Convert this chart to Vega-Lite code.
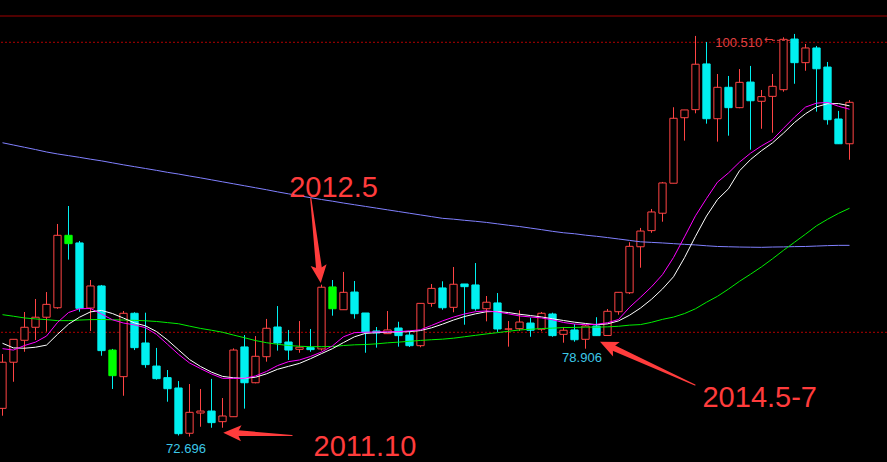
{
  "$schema": "https://vega.github.io/schema/vega-lite/v6.json",
  "width": 887,
  "height": 462,
  "autosize": {"type": "none"},
  "padding": 0,
  "background": "#000000",
  "config": {"view": {"stroke": null}, "scale": {"continuousPadding": 0}},
  "datasets": {
    "candles": [
      {"i":0,"d":"up","o":74.69,"h":78.53,"l":74.17,"c":77.95,"w":79.29,"m":78.91,"g":81.31,"b":93.46},
      {"i":1,"d":"up","o":77.95,"h":79.57,"l":76.57,"c":79.57,"w":78.96,"m":78.81,"g":81.20,"b":93.30},
      {"i":2,"d":"up","o":79.50,"h":81.50,"l":78.69,"c":80.42,"w":78.94,"m":79.13,"g":81.08,"b":93.14},
      {"i":3,"d":"up","o":80.42,"h":82.42,"l":79.52,"c":81.13,"w":79.01,"m":79.37,"g":81.01,"b":92.98},
      {"i":4,"d":"up","o":81.13,"h":82.91,"l":80.11,"c":82.04,"w":79.16,"m":79.80,"g":80.96,"b":92.81},
      {"i":5,"d":"up","o":81.80,"h":87.72,"l":81.73,"c":86.92,"w":79.92,"m":80.76,"g":80.89,"b":92.67},
      {"i":6,"d":"green","o":86.92,"h":88.99,"l":85.20,"c":86.33,"w":80.64,"m":81.46,"g":80.89,"b":92.55},
      {"i":7,"d":"down","o":86.38,"h":86.52,"l":81.52,"c":81.76,"w":81.13,"m":81.73,"g":80.93,"b":92.43},
      {"i":8,"d":"up","o":81.78,"h":83.76,"l":80.16,"c":83.34,"w":81.51,"m":81.75,"g":80.96,"b":92.30},
      {"i":9,"d":"down","o":83.34,"h":83.41,"l":78.41,"c":78.77,"w":81.61,"m":81.35,"g":80.97,"b":92.18},
      {"i":10,"d":"green","o":78.81,"h":78.89,"l":76.06,"c":77.00,"w":81.39,"m":80.95,"g":80.95,"b":92.04},
      {"i":11,"d":"up","o":76.93,"h":81.57,"l":75.58,"c":81.41,"w":81.07,"m":80.72,"g":80.93,"b":91.90},
      {"i":12,"d":"down","o":81.41,"h":81.48,"l":78.81,"c":78.98,"w":80.73,"m":80.59,"g":80.91,"b":91.77},
      {"i":13,"d":"down","o":79.31,"h":81.45,"l":77.56,"c":77.78,"w":80.52,"m":80.39,"g":80.88,"b":91.64},
      {"i":14,"d":"down","o":77.68,"h":78.96,"l":76.72,"c":76.79,"w":80.12,"m":79.92,"g":80.83,"b":91.51},
      {"i":15,"d":"down","o":76.86,"h":77.40,"l":75.16,"c":76.08,"w":79.52,"m":79.22,"g":80.75,"b":91.37},
      {"i":16,"d":"down","o":76.13,"h":76.62,"l":72.77,"c":72.90,"w":78.83,"m":78.51,"g":80.67,"b":91.25},
      {"i":17,"d":"up","o":72.93,"h":76.41,"l":72.696,"c":74.41,"w":78.14,"m":77.90,"g":80.50,"b":91.11},
      {"i":18,"d":"up","o":74.36,"h":76.06,"l":73.39,"c":74.50,"w":77.65,"m":77.50,"g":80.34,"b":90.98},
      {"i":19,"d":"down","o":74.50,"h":76.77,"l":73.32,"c":73.68,"w":77.25,"m":77.12,"g":80.21,"b":90.84},
      {"i":20,"d":"up","o":73.75,"h":75.42,"l":73.32,"c":74.15,"w":76.95,"m":76.81,"g":80.07,"b":90.70},
      {"i":21,"d":"up","o":74.10,"h":78.93,"l":74.10,"c":78.81,"w":76.85,"m":76.81,"g":79.87,"b":90.56},
      {"i":22,"d":"down","o":79.03,"h":79.87,"l":74.67,"c":76.50,"w":76.81,"m":76.81,"g":79.68,"b":90.42},
      {"i":23,"d":"up","o":76.50,"h":79.80,"l":76.46,"c":78.37,"w":76.89,"m":76.98,"g":79.48,"b":90.28},
      {"i":24,"d":"up","o":78.34,"h":81.01,"l":77.99,"c":80.35,"w":77.13,"m":77.30,"g":79.33,"b":90.14},
      {"i":25,"d":"down","o":80.44,"h":81.92,"l":78.77,"c":79.31,"w":77.45,"m":77.71,"g":79.22,"b":89.99},
      {"i":26,"d":"down","o":79.38,"h":80.23,"l":78.11,"c":78.81,"w":77.66,"m":77.99,"g":79.13,"b":89.85},
      {"i":27,"d":"up","o":78.86,"h":80.86,"l":78.62,"c":79.01,"w":77.87,"m":78.11,"g":79.08,"b":89.71},
      {"i":28,"d":"down","o":78.98,"h":80.30,"l":78.69,"c":78.84,"w":78.20,"m":78.36,"g":79.05,"b":89.58},
      {"i":29,"d":"up","o":78.89,"h":83.43,"l":78.77,"c":83.25,"w":78.56,"m":78.67,"g":79.05,"b":89.45},
      {"i":30,"d":"green","o":83.27,"h":83.76,"l":81.24,"c":81.73,"w":78.91,"m":79.11,"g":79.06,"b":89.33},
      {"i":31,"d":"up","o":81.66,"h":84.33,"l":81.66,"c":82.89,"w":79.34,"m":79.75,"g":79.13,"b":89.20},
      {"i":32,"d":"down","o":82.91,"h":83.69,"l":81.03,"c":81.38,"w":79.75,"m":80.04,"g":79.18,"b":89.08},
      {"i":33,"d":"down","o":81.43,"h":81.43,"l":78.62,"c":80.04,"w":79.99,"m":80.07,"g":79.20,"b":88.96},
      {"i":34,"d":"down","o":80.16,"h":80.44,"l":78.98,"c":80.02,"w":80.04,"m":80.09,"g":79.25,"b":88.84},
      {"i":35,"d":"up","o":79.97,"h":81.57,"l":79.95,"c":80.23,"w":80.07,"m":80.10,"g":79.32,"b":88.72},
      {"i":36,"d":"down","o":80.37,"h":80.81,"l":79.05,"c":79.83,"w":80.09,"m":80.11,"g":79.37,"b":88.60},
      {"i":37,"d":"down","o":79.87,"h":80.16,"l":79.03,"c":79.12,"w":80.11,"m":80.17,"g":79.43,"b":88.48},
      {"i":38,"d":"up","o":79.12,"h":82.11,"l":79.01,"c":82.11,"w":80.19,"m":80.24,"g":79.49,"b":88.36},
      {"i":39,"d":"up","o":82.11,"h":83.48,"l":81.87,"c":83.17,"w":80.38,"m":80.55,"g":79.54,"b":88.24},
      {"i":40,"d":"down","o":83.20,"h":83.67,"l":81.66,"c":81.80,"w":80.64,"m":80.87,"g":79.58,"b":88.12},
      {"i":41,"d":"up","o":81.83,"h":84.68,"l":81.48,"c":83.46,"w":80.93,"m":81.14,"g":79.65,"b":88.06},
      {"i":42,"d":"down","o":83.48,"h":83.48,"l":80.60,"c":83.29,"w":81.18,"m":81.36,"g":79.75,"b":87.98},
      {"i":43,"d":"down","o":83.41,"h":84.96,"l":81.59,"c":81.73,"w":81.37,"m":81.52,"g":79.85,"b":87.91},
      {"i":44,"d":"up","o":81.73,"h":82.63,"l":80.84,"c":82.19,"w":81.52,"m":81.58,"g":79.95,"b":87.83},
      {"i":45,"d":"down","o":82.14,"h":82.84,"l":80.09,"c":80.30,"w":81.54,"m":81.50,"g":80.04,"b":87.73},
      {"i":46,"d":"up","o":80.29,"h":80.86,"l":79.05,"c":80.30,"w":81.46,"m":81.37,"g":80.14,"b":87.63},
      {"i":47,"d":"up","o":80.32,"h":81.62,"l":80.16,"c":80.79,"w":81.34,"m":81.22,"g":80.23,"b":87.54},
      {"i":48,"d":"down","o":80.72,"h":81.10,"l":79.75,"c":80.21,"w":81.25,"m":81.15,"g":80.28,"b":87.43},
      {"i":49,"d":"up","o":80.28,"h":81.50,"l":80.14,"c":81.41,"w":81.15,"m":81.08,"g":80.33,"b":87.32},
      {"i":50,"d":"down","o":81.36,"h":81.45,"l":79.75,"c":79.83,"w":81.02,"m":80.95,"g":80.36,"b":87.20},
      {"i":51,"d":"up","o":79.92,"h":80.44,"l":79.33,"c":80.21,"w":80.90,"m":80.76,"g":80.40,"b":87.10},
      {"i":52,"d":"down","o":80.23,"h":80.65,"l":79.40,"c":79.54,"w":80.78,"m":80.65,"g":80.41,"b":87.03},
      {"i":53,"d":"up","o":79.57,"h":80.58,"l":78.906,"c":80.51,"w":80.69,"m":80.60,"g":80.43,"b":86.93},
      {"i":54,"d":"down","o":80.51,"h":81.13,"l":79.83,"c":79.83,"w":80.60,"m":80.63,"g":80.43,"b":86.85},
      {"i":55,"d":"up","o":79.84,"h":81.71,"l":79.84,"c":81.55,"w":80.66,"m":80.74,"g":80.45,"b":86.76},
      {"i":56,"d":"up","o":81.52,"h":82.89,"l":81.31,"c":82.89,"w":80.87,"m":80.97,"g":80.49,"b":86.66},
      {"i":57,"d":"up","o":82.86,"h":86.43,"l":82.77,"c":86.14,"w":81.27,"m":81.83,"g":80.57,"b":86.56},
      {"i":58,"d":"up","o":86.11,"h":87.44,"l":84.63,"c":87.22,"w":81.78,"m":82.54,"g":80.61,"b":86.46},
      {"i":59,"d":"up","o":87.25,"h":88.78,"l":87.10,"c":88.57,"w":82.40,"m":83.28,"g":80.77,"b":86.42},
      {"i":60,"d":"up","o":88.48,"h":90.69,"l":87.88,"c":90.62,"w":83.13,"m":84.14,"g":80.98,"b":86.38},
      {"i":61,"d":"up","o":90.60,"h":95.97,"l":90.60,"c":95.19,"w":83.99,"m":85.35,"g":81.14,"b":86.33},
      {"i":62,"d":"up","o":95.23,"h":95.78,"l":93.61,"c":95.78,"w":85.34,"m":86.81,"g":81.39,"b":86.28},
      {"i":63,"d":"up","o":95.80,"h":101.01,"l":95.54,"c":99.01,"w":86.85,"m":88.30,"g":81.73,"b":86.24},
      {"i":64,"d":"down","o":99.03,"h":100.58,"l":94.81,"c":95.16,"w":88.28,"m":89.52,"g":82.19,"b":86.18},
      {"i":65,"d":"up","o":95.16,"h":98.32,"l":93.54,"c":97.38,"w":89.45,"m":90.68,"g":82.61,"b":86.13},
      {"i":66,"d":"down","o":97.38,"h":98.18,"l":93.96,"c":95.94,"w":90.21,"m":91.33,"g":83.12,"b":86.11},
      {"i":67,"d":"up","o":95.94,"h":98.67,"l":95.90,"c":97.73,"w":91.48,"m":92.09,"g":83.67,"b":86.09},
      {"i":68,"d":"down","o":97.75,"h":98.89,"l":92.97,"c":96.43,"w":92.27,"m":92.72,"g":84.17,"b":86.08},
      {"i":69,"d":"up","o":96.39,"h":97.19,"l":94.45,"c":96.72,"w":92.90,"m":93.24,"g":84.69,"b":86.07},
      {"i":70,"d":"up","o":96.74,"h":98.32,"l":94.17,"c":97.45,"w":93.45,"m":93.68,"g":85.26,"b":86.09},
      {"i":71,"d":"up","o":97.21,"h":100.91,"l":97.07,"c":100.77,"w":94.14,"m":94.48,"g":85.86,"b":86.10},
      {"i":72,"d":"down","o":100.79,"h":101.15,"l":97.63,"c":99.12,"w":94.89,"m":95.27,"g":86.43,"b":86.12},
      {"i":73,"d":"up","o":99.12,"h":100.44,"l":98.55,"c":100.16,"w":95.51,"m":95.98,"g":87.00,"b":86.13},
      {"i":74,"d":"down","o":100.16,"h":100.30,"l":95.66,"c":98.69,"w":96.00,"m":96.26,"g":87.59,"b":86.16},
      {"i":75,"d":"down","o":98.81,"h":99.17,"l":94.74,"c":95.09,"w":96.22,"m":96.31,"g":88.05,"b":86.19},
      {"i":76,"d":"down","o":95.14,"h":95.71,"l":93.39,"c":93.39,"w":96.23,"m":96.04,"g":88.47,"b":86.21},
      {"i":77,"d":"up","o":93.39,"h":96.48,"l":92.26,"c":96.32,"w":96.07,"m":95.83,"g":88.83,"b":86.21}
    ],
    "levels": [
      {"p": 102.418, "kind": "solid"},
      {"p": 100.56, "kind": "dot"},
      {"p": 80.065, "kind": "dot"}
    ],
    "arrows": [
      {"a": "2012.5", "t": 0, "i": 28.02, "p": 89.556},
      {"a": "2012.5", "t": 1, "i": 28.80, "p": 84.39},
      {"a": "2014.5-7", "t": 0, "i": 62.95, "p": 76.341},
      {"a": "2014.5-7", "t": 1, "i": 55.31, "p": 79.047},
      {"a": "2011.10", "t": 0, "i": 26.32, "p": 72.772},
      {"a": "2011.10", "t": 1, "i": 21.16, "p": 72.941}
    ],
    "heads": [
      {"a": "2012.5", "i": 28.93, "p": 83.549},
      {"a": "2014.5-7", "i": 54.32, "p": 79.401},
      {"a": "2011.10", "i": 20.07, "p": 72.970}
    ],
    "big": [
      {"txt": "2012.5", "i": 30.09, "p": 89.64},
      {"txt": "2014.5-7", "i": 68.84, "p": 74.807},
      {"txt": "2011.10", "i": 32.95, "p": 71.323}
    ],
    "lows": [
      {"txt": "72.696", "i": 16.68, "p": 71.556},
      {"txt": "78.906", "i": 52.68, "p": 77.945}
    ],
    "high": [
      {"txt": "100.510", "i": 69.07, "p": 100.249, "i0": 69.95, "i1": 71.6, "pp": 100.70, "ia": 69.2}
    ]
  },
  "layer": [
    {
      "data": {"name": "levels"},
      "transform": [{"filter": "datum.kind === 'solid'"}],
      "mark": {"type": "rule", "color": "#a00000", "strokeWidth": 1},
      "encoding": {
        "y": {"field": "p", "type": "quantitative", "scale": {"domain": [70.899, 103.549], "nice": false, "zero": false, "padding": 0}, "axis": null}
      }
    },
    {
      "data": {"name": "levels"},
      "transform": [{"filter": "datum.kind === 'dot'"}],
      "mark": {"type": "rule", "color": "#b00000", "strokeWidth": 1, "strokeDash": [2, 2]},
      "encoding": {
        "y": {"field": "p", "type": "quantitative", "scale": {"domain": [70.899, 103.549], "nice": false, "zero": false, "padding": 0}, "axis": null}
      }
    },
    {
      "data": {"name": "candles"},
      "mark": {"type": "rule", "strokeWidth": 1},
      "encoding": {
        "x": {"field": "i", "type": "quantitative", "scale": {"domain": [-0.2273, 80.409], "nice": false, "zero": false, "padding": 0}, "axis": null},
        "y": {"field": "l", "type": "quantitative", "scale": {"domain": [70.899, 103.549], "nice": false, "zero": false, "padding": 0}, "axis": null},
        "y2": {"field": "h"},
        "color": {"field": "d", "type": "nominal", "scale": {"domain": ["up", "down", "green"], "range": ["#ff4444", "#00f0f0", "#00f0f0"]}, "legend": null}
      }
    },
    {
      "data": {"name": "candles"},
      "mark": {"type": "bar", "orient": "vertical", "width": 7.3, "strokeWidth": 1, "fillOpacity": 1},
      "encoding": {
        "x": {"field": "i", "type": "quantitative", "scale": {"domain": [-0.2273, 80.409], "nice": false, "zero": false, "padding": 0}, "axis": null},
        "y": {"field": "o", "type": "quantitative", "scale": {"domain": [70.899, 103.549], "nice": false, "zero": false, "padding": 0}, "axis": null},
        "y2": {"field": "c"},
        "fill": {"field": "d", "type": "nominal", "scale": {"domain": ["up", "down", "green"], "range": ["#000000", "#00f0f0", "#00ff00"]}, "legend": null},
        "stroke": {"field": "d", "type": "nominal", "scale": {"domain": ["up", "down", "green"], "range": ["#ff4444", "#00f0f0", "#00ff00"]}, "legend": null}
      }
    },
    {
      "data": {"name": "candles"},
      "mark": {"type": "line", "color": "#8080ff", "strokeWidth": 1},
      "encoding": {
        "x": {"field": "i", "type": "quantitative", "scale": {"domain": [-0.2273, 80.409], "nice": false, "zero": false, "padding": 0}, "axis": null},
        "y": {"field": "b", "type": "quantitative", "scale": {"domain": [70.899, 103.549], "nice": false, "zero": false, "padding": 0}, "axis": null}
      }
    },
    {
      "data": {"name": "candles"},
      "mark": {"type": "line", "color": "#00ee00", "strokeWidth": 1},
      "encoding": {
        "x": {"field": "i", "type": "quantitative", "scale": {"domain": [-0.2273, 80.409], "nice": false, "zero": false, "padding": 0}, "axis": null},
        "y": {"field": "g", "type": "quantitative", "scale": {"domain": [70.899, 103.549], "nice": false, "zero": false, "padding": 0}, "axis": null}
      }
    },
    {
      "data": {"name": "candles"},
      "mark": {"type": "line", "color": "#ffffff", "strokeWidth": 1},
      "encoding": {
        "x": {"field": "i", "type": "quantitative", "scale": {"domain": [-0.2273, 80.409], "nice": false, "zero": false, "padding": 0}, "axis": null},
        "y": {"field": "w", "type": "quantitative", "scale": {"domain": [70.899, 103.549], "nice": false, "zero": false, "padding": 0}, "axis": null}
      }
    },
    {
      "data": {"name": "candles"},
      "mark": {"type": "line", "color": "#ff00ff", "strokeWidth": 1},
      "encoding": {
        "x": {"field": "i", "type": "quantitative", "scale": {"domain": [-0.2273, 80.409], "nice": false, "zero": false, "padding": 0}, "axis": null},
        "y": {"field": "m", "type": "quantitative", "scale": {"domain": [70.899, 103.549], "nice": false, "zero": false, "padding": 0}, "axis": null}
      }
    },
    {
      "data": {"name": "arrows"},
      "mark": {"type": "trail", "color": "#ff3c3c"},
      "encoding": {
        "x": {"field": "i", "type": "quantitative", "scale": {"domain": [-0.2273, 80.409], "nice": false, "zero": false, "padding": 0}, "axis": null},
        "y": {"field": "p", "type": "quantitative", "scale": {"domain": [70.899, 103.549], "nice": false, "zero": false, "padding": 0}, "axis": null},
        "detail": {"field": "a", "type": "nominal"},
        "order": {"field": "t", "type": "quantitative"},
        "size": {"field": "t", "type": "quantitative", "scale": {"domain": [0, 1], "range": [1.2, 6]}, "legend": null}
      }
    },
    {
      "data": {"name": "heads"},
      "transform": [{"filter": "datum.a === '2012.5'"}],
      "mark": {"type": "point", "shape": "M0,0L1.6,3.6L0,2.8L-1.6,3.6Z", "size": 100, "filled": true, "opacity": 1, "strokeWidth": 0, "color": "#ff3c3c", "angle": 173.3},
      "encoding": {
        "x": {"field": "i", "type": "quantitative", "scale": {"domain": [-0.2273, 80.409], "nice": false, "zero": false, "padding": 0}, "axis": null},
        "y": {"field": "p", "type": "quantitative", "scale": {"domain": [70.899, 103.549], "nice": false, "zero": false, "padding": 0}, "axis": null}
      }
    },
    {
      "data": {"name": "heads"},
      "transform": [{"filter": "datum.a === '2014.5-7'"}],
      "mark": {"type": "point", "shape": "M0,0L1.6,3.6L0,2.8L-1.6,3.6Z", "size": 100, "filled": true, "opacity": 1, "strokeWidth": 0, "color": "#ff3c3c", "angle": 294.5},
      "encoding": {
        "x": {"field": "i", "type": "quantitative", "scale": {"domain": [-0.2273, 80.409], "nice": false, "zero": false, "padding": 0}, "axis": null},
        "y": {"field": "p", "type": "quantitative", "scale": {"domain": [70.899, 103.549], "nice": false, "zero": false, "padding": 0}, "axis": null}
      }
    },
    {
      "data": {"name": "heads"},
      "transform": [{"filter": "datum.a === '2011.10'"}],
      "mark": {"type": "point", "shape": "M0,0L1.6,3.6L0,2.8L-1.6,3.6Z", "size": 100, "filled": true, "opacity": 1, "strokeWidth": 0, "color": "#ff3c3c", "angle": 271.9},
      "encoding": {
        "x": {"field": "i", "type": "quantitative", "scale": {"domain": [-0.2273, 80.409], "nice": false, "zero": false, "padding": 0}, "axis": null},
        "y": {"field": "p", "type": "quantitative", "scale": {"domain": [70.899, 103.549], "nice": false, "zero": false, "padding": 0}, "axis": null}
      }
    },
    {
      "data": {"name": "big"},
      "mark": {"type": "text", "font": "Liberation Sans", "fontSize": 29, "color": "#ff3c3c", "align": "center", "baseline": "alphabetic"},
      "encoding": {
        "x": {"field": "i", "type": "quantitative", "scale": {"domain": [-0.2273, 80.409], "nice": false, "zero": false, "padding": 0}, "axis": null},
        "y": {"field": "p", "type": "quantitative", "scale": {"domain": [70.899, 103.549], "nice": false, "zero": false, "padding": 0}, "axis": null},
        "text": {"field": "txt", "type": "nominal"}
      }
    },
    {
      "data": {"name": "lows"},
      "mark": {"type": "text", "font": "Liberation Sans", "fontSize": 13, "color": "#3cc8e8", "align": "center", "baseline": "alphabetic"},
      "encoding": {
        "x": {"field": "i", "type": "quantitative", "scale": {"domain": [-0.2273, 80.409], "nice": false, "zero": false, "padding": 0}, "axis": null},
        "y": {"field": "p", "type": "quantitative", "scale": {"domain": [70.899, 103.549], "nice": false, "zero": false, "padding": 0}, "axis": null},
        "text": {"field": "txt", "type": "nominal"}
      }
    },
    {
      "data": {"name": "high"},
      "mark": {"type": "text", "font": "Liberation Sans", "fontSize": 13, "color": "#e04040", "align": "right", "baseline": "alphabetic"},
      "encoding": {
        "x": {"field": "i", "type": "quantitative", "scale": {"domain": [-0.2273, 80.409], "nice": false, "zero": false, "padding": 0}, "axis": null},
        "y": {"field": "p", "type": "quantitative", "scale": {"domain": [70.899, 103.549], "nice": false, "zero": false, "padding": 0}, "axis": null},
        "text": {"field": "txt", "type": "nominal"}
      }
    },
    {
      "data": {"name": "high"},
      "mark": {"type": "text", "font": "DejaVu Sans", "fontSize": 11, "color": "#e04040", "align": "left", "baseline": "middle", "text": "←"},
      "encoding": {
        "x": {"field": "ia", "type": "quantitative", "scale": {"domain": [-0.2273, 80.409], "nice": false, "zero": false, "padding": 0}, "axis": null},
        "y": {"field": "pp", "type": "quantitative", "scale": {"domain": [70.899, 103.549], "nice": false, "zero": false, "padding": 0}, "axis": null}
      }
    },
    {
      "data": {"name": "high"},
      "mark": {"type": "rule", "color": "#e04040", "strokeWidth": 1, "strokeDash": [3, 2]},
      "encoding": {
        "x": {"field": "i0", "type": "quantitative", "scale": {"domain": [-0.2273, 80.409], "nice": false, "zero": false, "padding": 0}, "axis": null},
        "x2": {"field": "i1"},
        "y": {"field": "pp", "type": "quantitative", "scale": {"domain": [70.899, 103.549], "nice": false, "zero": false, "padding": 0}, "axis": null}
      }
    }
  ]
}
